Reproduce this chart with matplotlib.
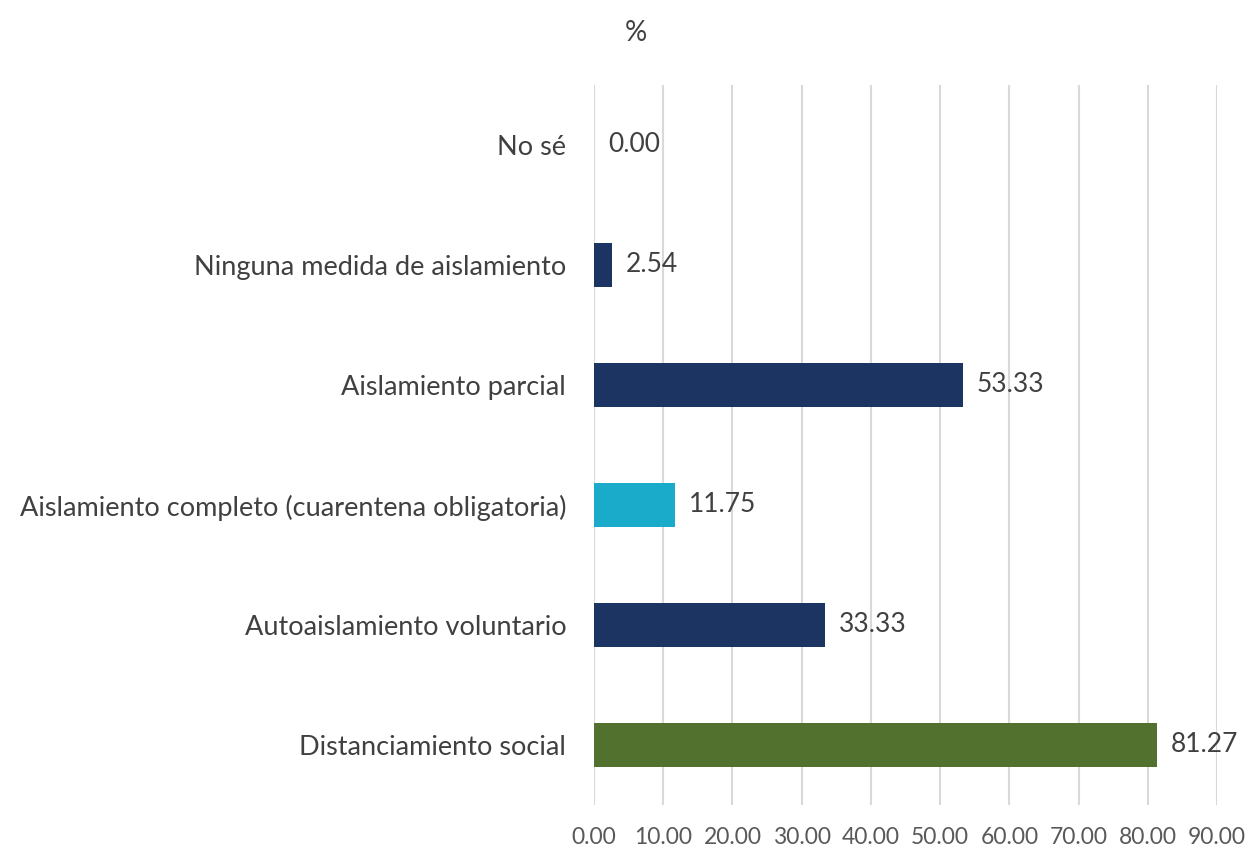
import matplotlib
matplotlib.use("Agg")
import matplotlib.pyplot as plt

categories = ["Distanciamiento social", "Autoaislamiento voluntario",
              "Aislamiento completo (cuarentena obligatoria)", "Aislamiento parcial",
              "Ninguna medida de aislamiento", "No sé"]
values = [81.27, 33.33, 11.75, 53.33, 2.54, 0.00]
colors = ["#52712F", "#1B3461", "#1AABCB", "#1B3461", "#1B3461", "#1B3461"]
xticks = [0, 10, 20, 30, 40, 50, 60, 70, 80, 90]

plt.rcParams['font.family'] = ['Lato', 'DejaVu Sans']

fig = plt.figure(figsize=(12.55, 8.52), dpi=100)
ax = fig.add_axes([594/1255, 1-805/852, (1217-594)/1255, 720/852])

y = list(range(len(categories)))
ax.barh(y, values, height=0.36, color=colors, zorder=3)
for yi, v in zip(y, values):
    ax.annotate(f"{v:.2f}", (v, yi), xytext=(10, 0), textcoords="offset points",
                va="center", ha="left", fontsize=19, color="#404040")

ax.set_xlim(0, 90)
ax.set_ylim(-0.5, 5.5)
ax.set_xticks(xticks)
ax.set_xticklabels([f"{t:.2f}" for t in xticks], fontsize=16.5, color="#595959")
ax.set_yticks(y)
ax.set_yticklabels(categories, fontsize=19.5, color="#404040")
ax.tick_params(axis="both", length=0)
ax.tick_params(axis="y", pad=20)
ax.tick_params(axis="x", pad=16)
ax.grid(axis="x", color="#D9D9D9", linewidth=1.5, zorder=0)
for s in ax.spines.values():
    s.set_visible(False)

fig.text(636/1255, 1-33/852, "%", ha="center", va="center", fontsize=20, color="#404040")

fig.savefig("out.png", dpi=100)
